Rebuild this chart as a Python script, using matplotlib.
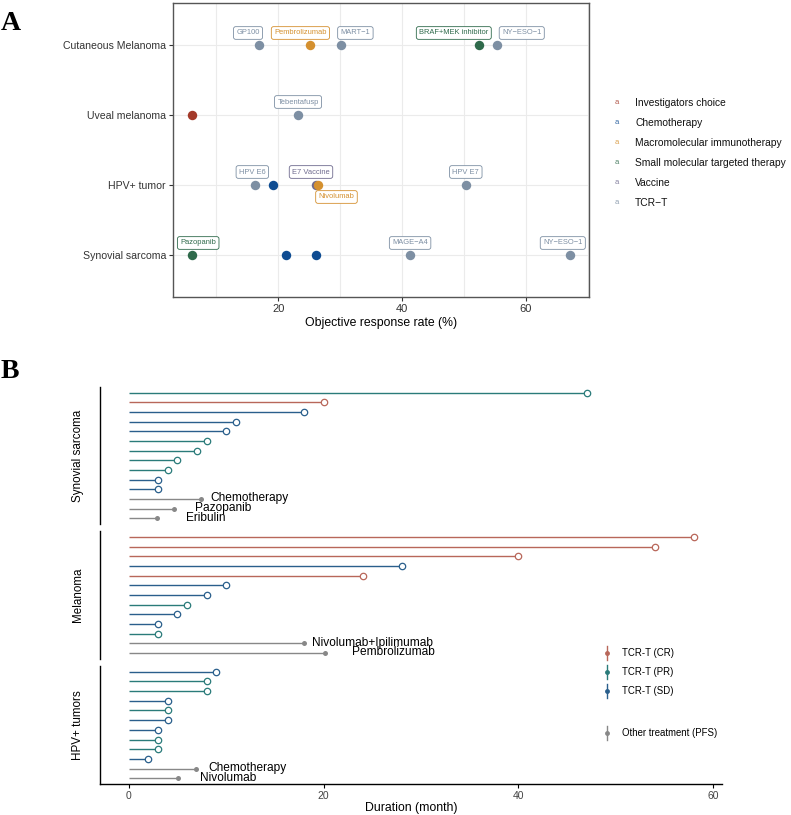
import matplotlib
matplotlib.use("Agg")
import matplotlib.pyplot as plt
from matplotlib.lines import Line2D

plt.rcParams['font.family'] = ['Liberation Sans', 'DejaVu Sans']

W, H = 791, 815

# ---- Panel A data ----
cancers = ['Cutaneous Melanoma', 'Uveal melanoma', 'HPV+ tumor', 'Synovial sarcoma']
a_cancer = ['Cutaneous Melanoma'] * 5 + ['Uveal melanoma'] * 2 + ['HPV+ tumor'] * 5 + ['Synovial sarcoma'] * 5
a_orr = [16.9, 25.2, 30.2, 52.4, 55.3,
         6.1, 23.2,
         16.3, 19.2, 26.1, 26.5, 50.3,
         6.1, 21.3, 26.1, 41.3, 67.1]
a_type = ['TCR-T', 'Macromolecular immunotherapy', 'TCR-T', 'Small molecular targeted therapy', 'TCR-T',
          'Investigators choice', 'TCR-T',
          'TCR-T', 'Chemotherapy', 'Vaccine', 'Macromolecular immunotherapy', 'TCR-T',
          'Small molecular targeted therapy', 'Chemotherapy', 'Chemotherapy', 'TCR-T', 'TCR-T']
a_label = ['GP100', 'Pembrolizumab', 'MART\u22121', 'BRAF+MEK inhibitor', 'NY\u2212ESO\u22121',
           None, 'Tebentafusp',
           'HPV E6', None, 'E7 Vaccine', 'Nivolumab', 'HPV E7',
           'Pazopanib', None, None, 'MAGE\u2212A4', 'NY\u2212ESO\u22121']

type_names = ['Investigators choice', 'Chemotherapy', 'Macromolecular immunotherapy',
              'Small molecular targeted therapy', 'Vaccine', 'TCR\u2212T']
type_colors = {'Investigators choice': '#A33A2A', 'Chemotherapy': '#0E4C92',
               'Macromolecular immunotherapy': '#D4902F', 'Small molecular targeted therapy': '#2F6A4B',
               'Vaccine': '#6E6A8E', 'TCR-T': '#7D8FA3'}

# label offsets (px) from point
label_off = [(-11, 12), (-10, 12), (14, 12), (-25, 12), (25, 12),
             None, (0, 13),
             (-3, 13), None, (-5, 13), (18, -12), (0, 13),
             (6, 12), None, None, (0, 12), (-7, 12)]

# ---- Panel B data ----
groups = ['Synovial sarcoma', 'Melanoma', 'HPV+ tumors']
tcr_months = {
    'Synovial sarcoma': [47, 20, 18, 11, 10, 8, 7, 5, 4, 3, 3],
    'Melanoma': [58, 54, 40, 28, 24, 10, 8, 6, 5, 3, 3],
    'HPV+ tumors': [9, 8, 8, 4, 4, 4, 3, 3, 3, 2],
}
tcr_response = {
    'Synovial sarcoma': ['PR', 'CR', 'SD', 'SD', 'SD', 'PR', 'PR', 'PR', 'PR', 'SD', 'SD'],
    'Melanoma': ['CR', 'CR', 'CR', 'SD', 'CR', 'SD', 'SD', 'PR', 'SD', 'SD', 'PR'],
    'HPV+ tumors': ['SD', 'PR', 'PR', 'SD', 'PR', 'SD', 'SD', 'PR', 'PR', 'SD'],
}
other_names = {
    'Synovial sarcoma': ['Chemotherapy', 'Pazopanib', 'Eribulin'],
    'Melanoma': ['Nivolumab+Ipilimumab', 'Pembrolizumab'],
    'HPV+ tumors': ['Chemotherapy', 'Nivolumab'],
}
other_pfs = {
    'Synovial sarcoma': [7.4, 4.6, 2.9],
    'Melanoma': [18.0, 20.1],
    'HPV+ tumors': [6.9, 5.1],
}
other_text_off = {
    'Synovial sarcoma': [10, 21, 29],
    'Melanoma': [8, 27],
    'HPV+ tumors': [12, 22],
}
resp_colors = {'CR': '#B8675A', 'PR': '#2A7B7A', 'SD': '#2A5F8C'}
other_color = '#888888'

fig = plt.figure(figsize=(W / 100, H / 100), dpi=100)


def rect(l, t, r, b):
    return [l / W, 1 - b / H, (r - l) / W, (b - t) / H]


# ================= Panel A =================
ax = fig.add_axes(rect(173, 3, 589, 297))
ypos = {c: i for i, c in enumerate(cancers)}
ax.set_xlim(3, 70.2)
ax.set_ylim(len(cancers) - 1 + 0.6, -0.6)
ax.set_xticks([20, 40, 60])
ax.set_xticks([10, 30, 50, 70], minor=True)
ax.set_yticks(range(len(cancers)))
ax.set_yticklabels(cancers)
ax.grid(True, which='both', color='#EBEBEB', lw=0.8)
ax.set_axisbelow(True)
ax.tick_params(axis='both', which='major', length=3, color='#333333', labelsize=7.6,
               labelcolor='#333333', pad=2)
ax.tick_params(axis='x', which='major', labelsize=8)
ax.tick_params(axis='x', which='minor', length=0)
for s in ax.spines.values():
    s.set_color('#555555')
    s.set_linewidth(1.0)
ax.set_xlabel('Objective response rate (%)', fontsize=8.8, labelpad=2)

for i in range(len(a_orr)):
    col = type_colors[a_type[i]]
    y = ypos[a_cancer[i]]
    ax.plot(a_orr[i], y, 'o', color=col, ms=6.8, mec='none', zorder=3)
for i in range(len(a_orr)):
    if a_label[i] is None:
        continue
    col = type_colors[a_type[i]]
    dx, dy = label_off[i]
    ax.annotate(a_label[i], xy=(a_orr[i], ypos[a_cancer[i]]),
                xytext=(dx * 0.72, dy * 0.72), textcoords='offset points',
                ha='center', va='center', fontsize=5.4, color=col, zorder=4,
                bbox=dict(boxstyle='round,pad=0.38,rounding_size=0.3', fc='white', ec=col, lw=0.6))

# legend A
for i, name in enumerate(type_names):
    col = type_colors[name.replace('\u2212', '-')]
    yy = 1 - (103 + 20 * i) / H
    fig.text(617 / W, yy, 'a', color=col, fontsize=5.5, ha='center', va='center', alpha=0.85)
    fig.text(635 / W, yy, name, fontsize=7.4, ha='left', va='center', color='#111111')

fig.text(11 / W, 1 - 24 / H, 'A', fontsize=20, fontweight='bold', family='Liberation Serif',
         ha='center', va='center')
fig.text(10 / W, 1 - 372 / H, 'B', fontsize=20, fontweight='bold', family='Liberation Serif',
         ha='center', va='center')

# ================= Panel B =================
panel_px = {'Synovial sarcoma': (387, 524), 'Melanoma': (531, 659), 'HPV+ tumors': (666, 784)}
for g in groups:
    top, bot = panel_px[g]
    bx = fig.add_axes(rect(100, top, 722, bot))
    vals = tcr_months[g]
    resp = tcr_response[g]
    n = len(vals) + len(other_pfs[g])
    bx.set_xlim(-2.95, 60.9)
    bx.set_ylim(n - 1 + 0.6, -0.6)
    for k, (v, r) in enumerate(zip(vals, resp)):
        col = resp_colors[r]
        bx.hlines(k, 0, v, color=col, lw=1.0)
        bx.plot(v, k, 'o', ms=4.6, mfc='white', mec=col, mew=0.9)
    for j, (name, v) in enumerate(zip(other_names[g], other_pfs[g])):
        k = len(vals) + j
        bx.hlines(k, 0, v, color=other_color, lw=1.0)
        bx.plot(v, k, 'o', ms=3.6, color=other_color, mec='none')
        bx.annotate(name, xy=(v, k), xytext=(other_text_off[g][j] * 0.72, 0.5),
                    textcoords='offset points', ha='left', va='center', fontsize=8.6, color='black')
    bx.set_yticks([])
    for s in ['top', 'right']:
        bx.spines[s].set_visible(False)
    bx.spines['left'].set_linewidth(1.0)
    bx.spines['left'].set_color('black')
    bx.text(-22 / 622, 0.5, g, rotation=90, transform=bx.transAxes, ha='center', va='center',
            fontsize=8.4)
    if g == 'HPV+ tumors':
        bx.set_xticks([0, 20, 40, 60])
        bx.tick_params(axis='x', length=3, labelsize=7.5, labelcolor='#444444', pad=2)
        bx.spines['bottom'].set_linewidth(1.0)
        bx.set_xlabel('Duration (month)', fontsize=8.8, labelpad=1)
    else:
        bx.spines['bottom'].set_visible(False)
        bx.set_xticks([])

# legend B
leg_items = [('TCR-T (CR)', resp_colors['CR'], 653), ('TCR-T (PR)', resp_colors['PR'], 672),
             ('TCR-T (SD)', resp_colors['SD'], 691), ('Other treatment (PFS)', other_color, 733)]
for name, col, ypx in leg_items:
    xk = 607 / W
    fig.add_artist(Line2D([xk, xk], [1 - (ypx - 7) / H, 1 - (ypx + 7) / H], color=col, lw=1.0,
                          transform=fig.transFigure))
    fig.add_artist(Line2D([xk], [1 - ypx / H], marker='o', ms=3.5, color=col, mec='none',
                          transform=fig.transFigure))
    fig.text(622 / W, 1 - ypx / H, name, fontsize=6.9, ha='left', va='center')

fig.savefig('out.png', dpi=100)
